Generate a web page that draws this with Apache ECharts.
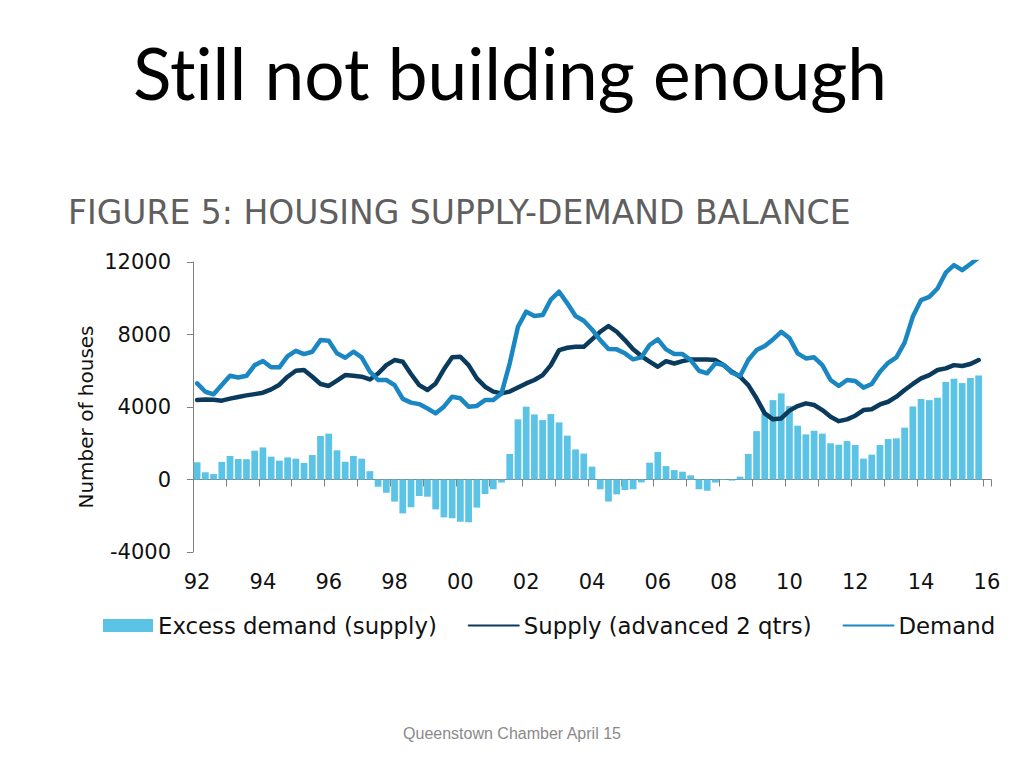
<!DOCTYPE html>
<html>
<head>
<meta charset="utf-8">
<script src="https://cdn.jsdelivr.net/npm/echarts@6/dist/echarts.min.js"></script>
<style>
html,body{margin:0;padding:0;background:#fff;}
#chart{width:1024px;height:768px;}
#chart text{font-variant-ligatures:none !important;font-feature-settings:"liga" 0, "clig" 0, "dlig" 0, "calt" 0 !important;}
</style>
</head>
<body>
<div id="chart"></div>
<script>
// Quarterly data, 1992 Q1 - 2015 Q4 (plus an empty 2016 Q1 slot on the axis)
const years = ['92','93','94','95','96','97','98','99','00','01','02','03','04','05','06','07','08','09','10','11','12','13','14','15','16'];
const tickLabels = ['92','94','96','98','00','02','04','06','08','10','12','14','16'];

const excessDemand = [
  950,400,300,970,1300,1130,1120,1590,1770,1260,1040,1220,1150,910,1350,2400,2530,1610,980,1300,1150,460,-400,-730,
  -1220,-1870,-1530,-910,-950,-1650,-2090,-2140,-2330,-2360,-1550,-800,-540,-170,1410,3320,4020,3590,3280,3610,3150,2420,1660,1430,
  710,-540,-1220,-820,-580,-540,-160,930,1520,740,520,430,230,-540,-620,-170,-30,-60,160,1410,2670,3650,4380,4750,
  4050,2970,2490,2690,2530,2000,1920,2120,1900,1150,1370,1900,2230,2270,2860,4030,4440,4380,4510,5380,5560,5320,5600,5740
];
const supply = [
  4380,4420,4400,4350,4460,4550,4640,4710,4790,4970,5230,5670,6000,6040,5670,5270,5160,5450,5760,5720,5670,5520,5850,6310,
  6590,6500,5820,5210,4940,5300,6080,6740,6770,6310,5580,5120,4850,4750,4850,5080,5300,5490,5760,6310,7140,7270,7320,7320,
  7730,8150,8470,8150,7690,7180,6810,6500,6220,6530,6400,6530,6620,6620,6620,6590,6310,5950,5670,5210,4480,3650,3320,3370,
  3800,4050,4200,4110,3830,3460,3220,3320,3520,3830,3880,4140,4290,4570,4940,5270,5580,5760,6040,6130,6310,6260,6370,6590
];
const demand = [
  5300,4840,4700,5210,5720,5630,5720,6310,6540,6190,6190,6810,7100,6920,7050,7690,7660,6960,6720,7050,6740,5950,5490,5490,
  5210,4450,4240,4160,3920,3650,4020,4570,4480,4020,4060,4380,4380,4750,6410,8430,9260,9020,9070,9930,10360,9720,9020,8760,
  8280,7690,7200,7180,6960,6630,6740,7420,7730,7180,6920,6920,6590,6000,5860,6410,6320,5890,5710,6590,7140,7360,7730,8150,
  7800,6960,6680,6740,6310,5490,5160,5490,5440,5070,5270,5950,6440,6740,7550,8990,9900,10080,10540,11410,11830,11550,11890,12250
];

const categories = [];
years.forEach(function (y, yi) {
  const nq = (yi === years.length - 1) ? 1 : 4;
  for (let q = 1; q <= nq; q++) categories.push(y + ' Q' + q);
});

function fitSize(text, family, target, weight) {
  const c = document.createElement('canvas').getContext('2d');
  c.font = (weight || 'normal') + ' 100px ' + family;
  return 100 * target / c.measureText(text).width;
}

const mainTitle = 'Still not building enough';
const figTitle = 'FIGURE 5: HOUSING SUPPLY-DEMAND BALANCE';
const titleSize = fitSize(mainTitle, 'Lato', 755);
const figSize = fitSize(figTitle, '"DejaVu Sans"', 783);

const chart = echarts.init(document.getElementById('chart'), null, {renderer: 'svg'});
const axisGrey = '#808080';
const font = 'DejaVu Sans';
const hiddenSymbol = {opacity: 0, color: 'rgba(0,0,0,0)', borderWidth: 0};

chart.setOption({
  animation: false,
  backgroundColor: '#ffffff',
  grid: {left: 193, right: 33, top: 262, bottom: 216, containLabel: false},
  legend: {
    left: 98, top: 609,
    itemWidth: 50, itemHeight: 13, itemGap: 31,
    textStyle: {fontFamily: font, fontSize: 22.8, color: '#111'},
    data: [
      {name: 'Excess demand (supply)', icon: 'rect'},
      {name: 'Supply (advanced 2 qtrs)', itemStyle: hiddenSymbol},
      {name: 'Demand', itemStyle: hiddenSymbol}
    ]
  },
  xAxis: {
    type: 'category',
    data: categories,
    boundaryGap: true,
    axisLine: {onZero: true, lineStyle: {color: axisGrey, width: 1}},
    axisTick: {show: true, interval: 3, length: 7, alignWithLabel: false, lineStyle: {color: axisGrey}},
    axisLabel: {
      interval: 7, margin: 19, fontFamily: font, fontSize: 21, color: '#111',
      formatter: function (v, idx) { return tickLabels[idx / 8]; }
    },
    splitLine: {show: false}
  },
  yAxis: {
    type: 'value',
    min: -4000, max: 12000, interval: 4000,
    axisLine: {show: true, lineStyle: {color: axisGrey, width: 1}},
    axisTick: {show: true, length: 6, lineStyle: {color: axisGrey}},
    axisLabel: {margin: 22, fontFamily: font, fontSize: 21, color: '#111',
      formatter: function (v) { return String(v); }},
    splitLine: {show: false}
  },
  series: [
    {
      name: 'Excess demand (supply)', type: 'bar', data: excessDemand,
      barCategoryGap: '18%',
      itemStyle: {color: '#5BC4E6'}
    },
    {
      name: 'Supply (advanced 2 qtrs)', type: 'line', data: supply,
      symbol: 'none', showSymbol: false,
      lineStyle: {color: '#0B3B5C', width: 4.5, cap: 'round', join: 'round'},
      itemStyle: {color: '#0B3B5C'}
    },
    {
      name: 'Demand', type: 'line', data: demand,
      symbol: 'none', showSymbol: false,
      lineStyle: {color: '#1A86C2', width: 4.5, cap: 'round', join: 'round'},
      itemStyle: {color: '#1A86C2'}
    }
  ],
  graphic: [
    {type: 'text', left: 133, top: 80 - titleSize * 0.6, style: {text: mainTitle, font: 'normal ' + titleSize.toFixed(1) + 'px Lato', fill: '#000'}},
    {type: 'text', x: 68, y: 212, style: {text: figTitle, fontFamily: font, fontSize: figSize, fill: '#5f5f5f', verticalAlign: 'middle', align: 'left'}},
    {type: 'text', x: 86, y: 417, rotation: Math.PI / 2, style: {text: 'Number of houses', fontFamily: font, fontSize: 20, fill: '#111', align: 'center', verticalAlign: 'middle'}},
    {type: 'text', x: 512, y: 733, style: {text: 'Queenstown Chamber April 15', fontFamily: 'Liberation Sans', fontSize: 16, fill: '#8a8a8a', align: 'center', verticalAlign: 'middle'}}
  ]
});
</script>
</body>
</html>
